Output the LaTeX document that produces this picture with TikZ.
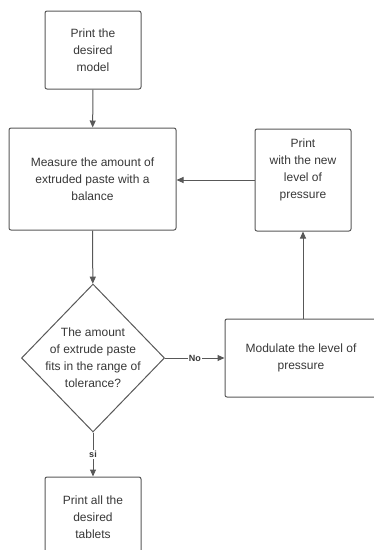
\documentclass[tikz,border=0pt]{standalone}
\usepackage{fontspec}
\setmainfont{Liberation Sans}
\usepackage{xcolor}
\usetikzlibrary{arrows.meta, positioning, shapes.geometric}
\definecolor{flowline}{RGB}{88,88,88}
\definecolor{flowtext}{RGB}{55,55,55}

\begin{document}
\begin{tikzpicture}[x=1pt,y=1pt,
    every node/.style={font=\fontsize{12}{17}\selectfont,text=flowtext},
    procbox/.style={draw=flowline,line width=1pt,rounded corners=2pt,align=center},
    flowarrow/.style={-{Triangle[length=7pt,width=6pt]},flowline,line width=1pt}]
  \useasboundingbox (0,0) rectangle (374,-550);
  \node[procbox,minimum width=96pt,minimum height=78pt] (model) at (93,-50) {Print the\\desired\\model};
  \node[procbox,minimum width=167pt,minimum height=102pt] (measure) at (92.5,-179) {Measure the amount of\\extruded paste with a\\balance};
  \node[procbox,minimum width=96pt,minimum height=102pt] (printnew) at (303,-180) {Print\\with the new\\level of\\pressure\\[6pt]};
  \node[draw=flowline,line width=1pt,shape=diamond,minimum width=143pt,minimum height=148pt,inner sep=0pt,
        label={[align=center,text=flowtext]center:The amount\\of extrude paste\\fits in the range of\\tolerance?}] (check) at (93,-358) {};
  \node[procbox,minimum width=152pt,minimum height=78pt] (modulate) at (301,-358) {Modulate the level of\\pressure};
  \node[procbox,minimum width=96pt,minimum height=80pt] (tablets) at (93,-517) {Print all the\\desired\\tablets};
  \draw[flowarrow] (model)--(measure);
  \draw[flowarrow] (measure)--(check);
  \draw[flowarrow] (printnew)--(measure.east |- printnew);
  \draw[flowarrow] (check.east)--node[fill=white,inner sep=1pt,font=\bfseries\fontsize{9}{10}\selectfont]{No}(modulate.west);
  \draw[flowarrow] (modulate.north -| printnew.south)--(printnew.south);
  \draw[flowarrow] (check.south)--node[fill=white,inner sep=1pt,font=\bfseries\fontsize{9}{10}\selectfont]{si}(tablets.north);
\end{tikzpicture}
\end{document}
